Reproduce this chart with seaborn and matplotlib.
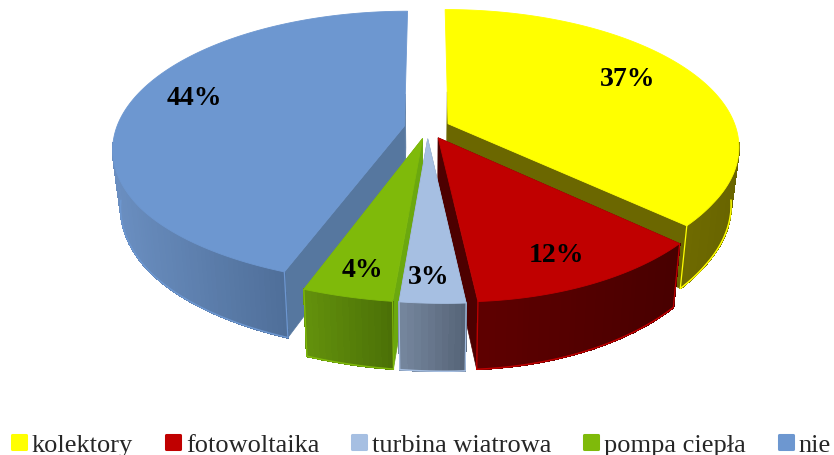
import numpy as np
import matplotlib
matplotlib.use('Agg')
import matplotlib.pyplot as plt
from matplotlib.collections import PolyCollection
from matplotlib.lines import Line2D
from matplotlib.markers import MarkerStyle
import seaborn as sns

# Chart data
categories = ['kolektory', 'fotowoltaika', 'turbina wiatrowa', 'pompa ciepła', 'nie']
values = [37, 12, 3, 4, 44]

# Colours: top face, wall gradient left/right, cut face
top_colors = ['#ffff00', '#c00000', '#a6bfe2', '#7fba0a', '#6d97d0']
wall_left = ['#6e6a00', '#5e0000', '#74859c', '#62900c', '#6a8ec0']
wall_right = ['#686400', '#480000', '#566478', '#4b7007', '#4f6f99']
cut_colors = ['#6b6700', '#4d0000', '#6f8097', '#6ba80f', '#56779f']

# Fake 3D view settings (pixels)
cx, cy = 427, 129
rx, ry = 288, 134
persp = 0.162
shear = 18
depth = 56
shrink = 0.975
explode = 0.08
label_r = 0.68
label_nudge = [(9, -11), (17, 23), (-4, 32), (-13, 30), (-22, -12)]


def project(u, v, low=False):
    w = 1 / (1 - persp * v)
    x = rx * u * w + shear * np.maximum(v, 0) * np.maximum(1 - 1.1 * np.abs(u), 0)
    y = cy + ry * v * w
    if low:
        return cx + x * shrink, y + depth * w
    return cx + x, y


sns.set_theme(style='white')
plt.rcParams['font.family'] = ['Liberation Serif', 'DejaVu Serif']

fig = plt.figure(figsize=(8.34, 4.56), dpi=100)
ax = fig.add_axes([0, 0, 1, 1])
ax.set_xlim(0, 834)
ax.set_ylim(456, 0)
ax.axis('off')

# Slice boundaries, clockwise from the top
edges = np.radians(np.concatenate([[0], np.cumsum(values)]) * 3.6)


def draw_slice(i, z):
    a0, a1 = edges[i], edges[i + 1]
    mid = (a0 + a1) / 2
    u0, v0 = explode * np.sin(mid), -explode * np.cos(mid)
    th = np.linspace(a0, a1, max(int(np.degrees(a1 - a0)), 6) + 1)
    u = u0 + np.sin(th)
    v = v0 - np.cos(th)
    xt, yt = project(u, v)
    xb, yb = project(u, v, low=True)
    ax_t, ay_t = project(u0, v0)
    ax_b, ay_b = project(u0, v0, low=True)

    # cut faces, the ones running to the back only show near the centre
    for k in (0, -1):
        frac = 0.25 if v[k] < -0.5 else 1
        ut, vt = u0 + frac * (u[k] - u0), v0 + frac * (v[k] - v0)
        p_t = project(ut, vt)
        p_b = project(ut, vt, low=True)
        face = [(ax_t, ay_t), p_t, p_b, (ax_b, ay_b)]
        ax.fill(*zip(*face), color=cut_colors[i], lw=0.5, zorder=z * 3 + 1)

    # outer wall with gradient, front part only
    keep = np.where(v > 0.1)[0]
    if len(keep) > 1:
        lo, hi = keep[0], keep[-1]
        quads = [[(xt[j], yt[j]), (xt[j + 1], yt[j + 1]), (xb[j + 1], yb[j + 1]), (xb[j], yb[j])]
                 for j in range(lo, hi)]
        mids = (xt[lo:hi] + xt[lo + 1:hi + 1]) / 2
        order = (mids - mids.min()) / max(mids.max() - mids.min(), 1)
        ramp = sns.blend_palette([wall_left[i], wall_right[i]], 64)
        cols = [ramp[int(o * 63)] for o in order]
        ax.add_collection(PolyCollection(quads, facecolors=cols, edgecolors=cols, linewidths=0.8,
                                         antialiaseds=False, zorder=z * 3 + 2))
        # bright rim along the bottom and at the corners
        ax.plot(xb[lo:hi + 1], yb[lo:hi + 1], color=top_colors[i], lw=1.1, zorder=z * 3 + 2)
        for k in (lo, hi):
            if 0 < k < len(th) - 1:
                continue
            ax.plot([xt[k], xb[k]], [yt[k], yb[k]], color=top_colors[i], lw=0.9, zorder=z * 3 + 2)

    # top face
    ax.fill(np.r_[ax_t, xt], np.r_[ay_t, yt], color=top_colors[i], lw=0.6, zorder=z * 3 + 3)

    # value label
    lx, ly = project(u0 + label_r * np.sin(mid), v0 - label_r * np.cos(mid))
    ax.text(lx + label_nudge[i][0], ly + label_nudge[i][1], f'{values[i]}%', ha='center', va='center',
            fontsize=20, fontweight='bold', color='black', zorder=30)


# back slices first, light blue last so it sits over its neighbours
for z, i in enumerate([0, 4, 1, 3, 2]):
    draw_slice(i, z)

box = MarkerStyle('s', joinstyle='round')
handles = [Line2D([], [], ls='none', marker=box, ms=10, mew=2.2, color=c) for c in top_colors]
fig.legend(handles, categories, loc='lower left', bbox_to_anchor=(-0.0156, -0.043), ncol=5, frameon=False,
           fontsize=19, handletextpad=0.0, columnspacing=1.0, handlelength=1.0, borderpad=0.2)

plt.savefig('out.png', dpi=100)
plt.close()
